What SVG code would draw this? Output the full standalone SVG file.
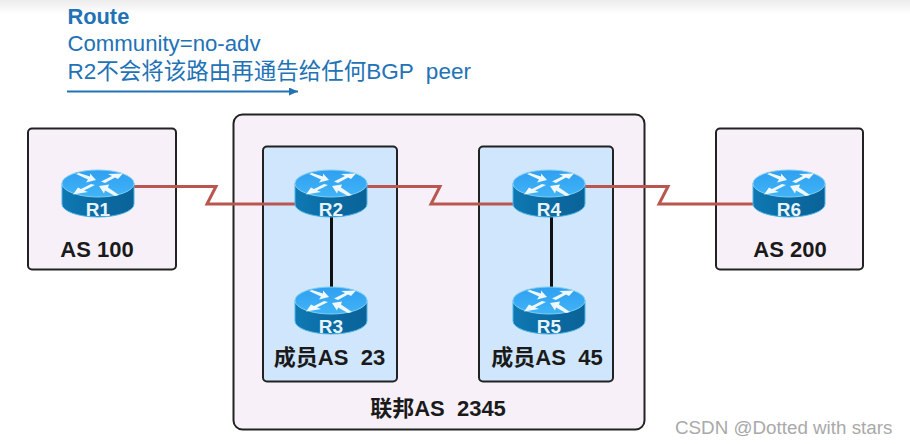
<svg xmlns="http://www.w3.org/2000/svg" width="910" height="444" viewBox="0 0 910 444">
  <style>
    text { font-family: "Liberation Sans", "Noto Sans CJK SC", Arial, sans-serif; }
    .note { fill: #2272b6; font-size: 22.200px; }
    .note-title { fill: #2272b6; font-size: 21.800px; font-weight: bold; }
    .note-long { fill: #2272b6; font-size: 22.500px; }
    .as { fill: #1a1a1a; font-size: 22px; font-weight: bold; text-anchor: middle; }
    .rname { fill: #e6f3fb; font-size: 19px; font-weight: bold; text-anchor: middle; }
    .outer { fill: #f7f0f9; stroke: #222; stroke-width: 2; }
    .member { fill: #cfe6fc; stroke: #222; stroke-width: 2; }
    .serial { fill: none; stroke: #b9564f; stroke-width: 3; stroke-linejoin: miter; }
    .lan { fill: none; stroke: #111; stroke-width: 3; }
  </style>
  <defs>
    <linearGradient id="topShade" x1="0" y1="0" x2="0" y2="1">
      <stop offset="0" stop-color="#ececec"/>
      <stop offset="1" stop-color="#ffffff"/>
    </linearGradient>
    <linearGradient id="routerSide" x1="0" y1="0" x2="1" y2="0">
      <stop offset="0" stop-color="#0f79b3"/>
      <stop offset="0.5" stop-color="#0b6ba3"/>
      <stop offset="1" stop-color="#0a6398"/>
    </linearGradient>
    <linearGradient id="routerTop" x1="0" y1="0" x2="0" y2="1">
      <stop offset="0" stop-color="#2f9ff0"/>
      <stop offset="1" stop-color="#41b4f8"/>
    </linearGradient>
    <marker id="noteHead" markerUnits="userSpaceOnUse" markerWidth="10" markerHeight="9" refX="9" refY="4" orient="auto">
      <path d="M0 0 L9 4 L0 8 Z" fill="#2272b6"/>
    </marker>
    <!-- Router icon, drawn about its top centre -->
    <g id="router">
      <path d="M-36 13.5 V34 A36 13 0 0 0 36 34 V13.5 Z" fill="url(#routerSide)" stroke="#4fb4e6" stroke-width="1"/>
      <ellipse cx="0" cy="13.5" rx="36" ry="13.500" fill="url(#routerTop)" stroke="#7fcdf2" stroke-width="1"/>
      <g fill="#eef8fe">
        <!-- upper left, pointing in -->
        <path d="M-22 4 L-19 3 L-8 6.500 L-8 3.500 L-2 10 L-12 12.500 L-10 9.500 Z"/>
        <!-- upper right, pointing out -->
        <path d="M3 11.500 L14 6 L10 4 L25 3.500 L20 9 L17 7.500 L7 13 Z"/>
        <!-- lower left, pointing out -->
        <path d="M-3 15 L-14 20.500 L-10 22 L-25 24.500 L-20 17.500 L-17 19 L-7 14 Z"/>
        <!-- lower right, pointing in -->
        <path d="M21 25 L17 26 L7 20.500 L6 23.500 L1 16 L11 14.500 L10 17.500 Z"/>
      </g>
    </g>
  </defs>

  <rect width="910" height="444" fill="#ffffff"/>
  <rect width="910" height="14" fill="url(#topShade)"/>

  <g id="route-note">
    <text class="note-title" x="67.500" y="24">Route</text>
    <text class="note" x="67.500" y="51">Community=no-adv</text>
    <text class="note-long" x="67.500" y="79" xml:space="preserve">R2不会将该路由再通告给任何BGP  peer</text>
    <line x1="67" y1="91.5" x2="298" y2="91.5" stroke="#2272b6" stroke-width="2" marker-end="url(#noteHead)"/>
  </g>

  <g id="as100-area"><rect class="outer" x="28" y="128.500" width="148" height="141" rx="4"/></g>
  <g id="confederation"><rect class="outer" x="233.500" y="114.500" width="411" height="315" rx="9"/></g>
  <g id="member23-area"><rect class="member" x="263" y="146.500" width="134" height="235" rx="4"/></g>
  <g id="member45-area"><rect class="member" x="479" y="146.500" width="134" height="235" rx="4"/></g>
  <g id="as200-area"><rect class="outer" x="716" y="128.500" width="147" height="141" rx="4"/></g>

  <g id="connectors">
    <path class="serial" d="M134 186.500 H216 L207 204 H296"/>
    <path class="serial" d="M366 186.500 H440 L431 204 H514"/>
    <path class="serial" d="M585 186.500 H668 L659 204 H754"/>
    <line class="lan" x1="331.500" y1="217" x2="331.500" y2="288"/>
    <line class="lan" x1="551.500" y1="217" x2="551.500" y2="288"/>
  </g>

  <g id="r1"><use href="#router" x="98" y="170"/><text class="rname" x="98" y="215.500">R1</text></g>
  <g id="r2"><use href="#router" x="331" y="170"/><text class="rname" x="331" y="215.500">R2</text></g>
  <g id="r3"><use href="#router" x="331" y="287"/><text class="rname" x="331" y="332.500">R3</text></g>
  <g id="r4"><use href="#router" x="549" y="170"/><text class="rname" x="549" y="215.500">R4</text></g>
  <g id="r5"><use href="#router" x="549" y="287"/><text class="rname" x="549" y="332.500">R5</text></g>
  <g id="r6"><use href="#router" x="789" y="170"/><text class="rname" x="789" y="215.500">R6</text></g>

  <g id="labels">
    <text class="as" x="97" y="257">AS 100</text>
    <text class="as" x="329.500" y="365" xml:space="preserve">成员AS  23</text>
    <text class="as" x="547" y="365" xml:space="preserve">成员AS  45</text>
    <text class="as" x="438" y="416" xml:space="preserve">联邦AS  2345</text>
    <text class="as" x="790" y="257">AS 200</text>
  </g>

  <text x="675" y="434" fill="#a9a9a9" font-size="18.800px">CSDN @Dotted with stars</text>
</svg>
